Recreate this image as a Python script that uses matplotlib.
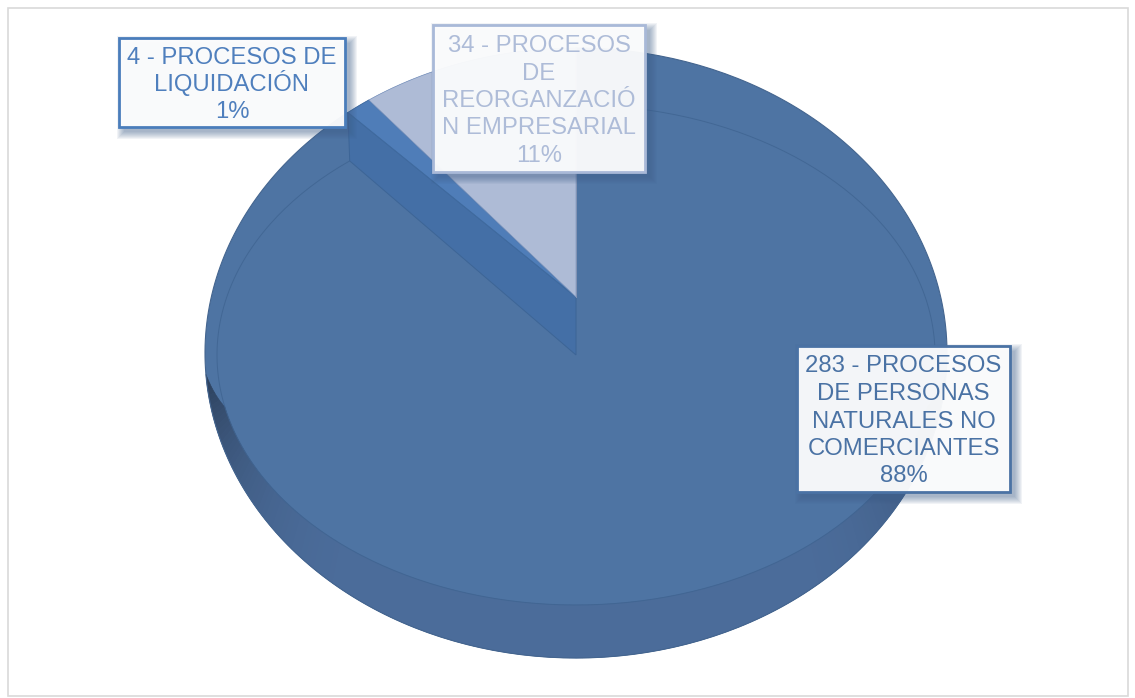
import numpy as np
import matplotlib
matplotlib.use("Agg")
import matplotlib.pyplot as plt
from matplotlib.patches import Polygon, Rectangle, Ellipse

plt.rcParams['font.family'] = ['Liberation Sans', 'DejaVu Sans']

# slices, clockwise from 12 o'clock
counts = [283, 4, 34]
percents = ['88%', '1%', '11%']
names = [['283 - PROCESOS', 'DE PERSONAS', 'NATURALES NO', 'COMERCIANTES'],
         ['4 - PROCESOS DE', 'LIQUIDACIÓN'],
         ['34 - PROCESOS', 'DE', 'REORGANZACIÓ', 'N EMPRESARIAL']]
text_colors = ['#4A72A4', '#4F7FBD', '#AEBCD8']
edge_colors = ['#4A72A4', '#4A7DBB', '#A9B9D8']
boxes = [(797, 346, 1010, 492), (119, 38, 345, 127), (433, 25, 645, 172)]

W, H = 1135, 698
cx = 576
outer_y, outer_a, outer_b = 353, 371, 305   # silhouette of the disc
inner_y, inner_a, inner_b = 355, 359, 250   # lower rim seen through the top
top_apex = 297
persp = 0.89                                # view squeezes the angles near the back
line_pitch = 27.5

fig = plt.figure(figsize=(W / 100, H / 100), dpi=100)
ax = fig.add_axes([0, 0, 1, 1])
ax.set_xlim(0, W)
ax.set_ylim(H, 0)
ax.axis('off')

ax.add_patch(Rectangle((8, 8), 1120, 688, fc='white', ec='#D9D9D9', lw=1.2, zorder=0))


def outer_pt(t):
    return np.array([cx - outer_a * np.sin(t), outer_y - outer_b * np.cos(t)])


def inner_pt(t):
    return np.array([cx - inner_a * np.sin(t), inner_y - inner_b * np.cos(t)])


# angles measured counter-clockwise from the top
total = sum(counts)
t_reorg = np.radians(counts[2] / total * 360) * persp
t_liq = np.radians((counts[2] + counts[1]) / total * 360) * persp

# whole disc in the slice colour
ax.add_patch(Ellipse((cx, outer_y), 2 * outer_a, 2 * outer_b, fc='#4E74A3', ec='none', zorder=1))

# top surface of the large slice
tt = np.linspace(0, 2 * np.pi, 400)
ix, iy = inner_pt(tt)
ax.fill(ix, iy, color='#4E74A3', lw=0, zorder=3)

# side wall, dark at the two ends, tapering to nothing where it meets the silhouette
wall_t = np.linspace(np.radians(94), np.radians(266), 173)
base = np.array([0x4B, 0x6C, 0x9A]) / 255
dark = np.array([0x2C, 0x40, 0x5C]) / 255


def wall_top(t):
    d = min(t - wall_t[0], wall_t[-1] - t)
    q = min(1, d / np.radians(8))
    return outer_pt(t) * (1 - q) + inner_pt(t) * q


for t0, t1 in zip(wall_t[:-1], wall_t[1:]):
    pts = [outer_pt(t0), outer_pt(t1), wall_top(t1), wall_top(t0)]
    d = abs(np.degrees((t0 + t1) / 2) - 180) / 86
    shade = np.clip((d - 0.42) / 0.58, 0, 1) ** 2
    col = base * (1 - shade) + dark * shade
    ax.add_patch(Polygon(pts, fc=col, ec=col, lw=0.4, zorder=4))

# rim lines
tl = np.linspace(t_liq + 0.02, 2 * np.pi, 300)
ix, iy = inner_pt(tl)
ax.plot(ix, iy, color='#3F6491', lw=0.7, alpha=0.8, zorder=5)
ox, oy = outer_pt(np.linspace(np.radians(38), np.radians(360), 300))
ax.plot(ox, oy, color='#44658F', lw=0.8, zorder=5)

# cut wall under the removed slices
p_liq = outer_pt(t_liq)
p_in = inner_pt(t_liq + 0.02)
ax.add_patch(Polygon([p_liq, (cx, top_apex), (cx, inner_y), p_in],
                     fc='#446FA6', ec='#3D6596', lw=0.7, zorder=6))

# liquidación sliver
ts = np.linspace(t_reorg, t_liq, 20)
sx, sy = outer_pt(ts)
ax.add_patch(Polygon(list(zip(sx, sy)) + [(cx, top_apex)], fc='#4F7DB8', ec='#3F6A9F', lw=0.6, zorder=7))

# reorganización slice
ts = np.linspace(0, t_reorg, 60)
sx, sy = outer_pt(ts)
ax.add_patch(Polygon(list(zip(sx, sy)) + [(cx, top_apex)], fc='#AEBBD6', ec='#7F97C0', lw=0.5, zorder=7))
ax.plot([cx, cx], [outer_y - outer_b, top_apex], color='#8494B5', lw=0.7, zorder=8)

# labels, one text per line so the pitch stays even with the accented capitals
for name, pct, tc, ec, (x0, y0, x1, y1) in zip(names, percents, text_colors, edge_colors, boxes):
    for k in range(8, 0, -1):
        ax.add_patch(Rectangle((x0 + 6 - k, y0 + 6 - k), x1 - x0 + 2 * k - 2, y1 - y0 + 2 * k - 2,
                               fc='#3F5F8A', ec='none', alpha=0.07, zorder=9))
    ax.add_patch(Rectangle((x0, y0), x1 - x0, y1 - y0, fc='white', ec='none', alpha=0.94, zorder=10))
    ax.add_patch(Rectangle((x0, y0), x1 - x0, y1 - y0, fc='none', ec=ec, lw=2, zorder=11))
    lines = name + [pct]
    for i, line in enumerate(lines):
        y = (y0 + y1) / 2 + (i - (len(lines) - 1) / 2) * line_pitch + 8.5
        ax.text((x0 + x1) / 2, y, line, ha='center', va='baseline',
                color=tc, fontsize=17.2, zorder=12)

fig.savefig('out.png', dpi=100)
